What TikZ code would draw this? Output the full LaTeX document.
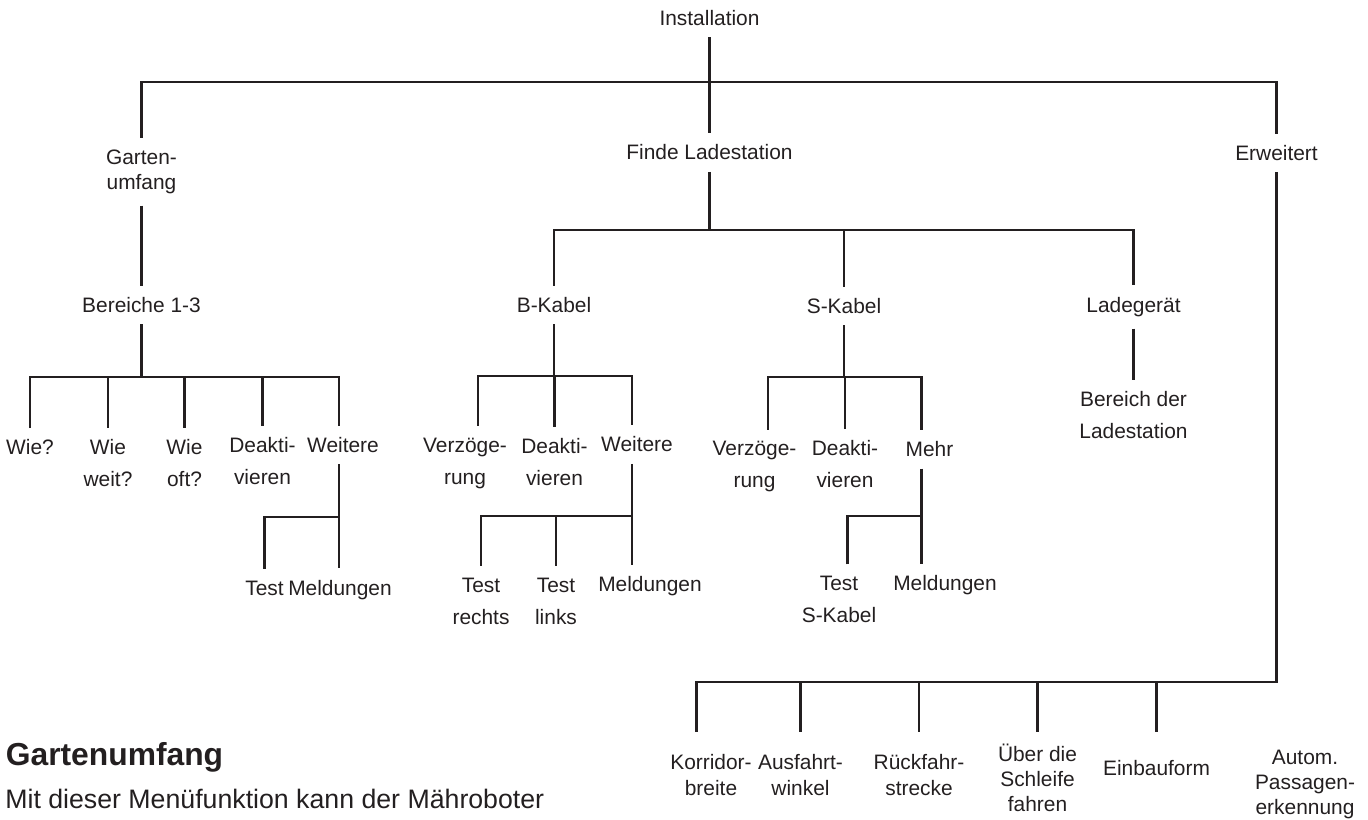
\documentclass[tikz,border=0pt]{standalone}
\usepackage{fontspec}
\setmainfont{Liberation Sans}
\definecolor{ink}{RGB}{35,31,32}
\tikzset{
  lbl/.style={font=\fontsize{11.9}{14.3}\selectfont, align=center, text=ink, inner xsep=1pt, inner ysep=6.5pt},
  tall/.style={lbl, font=\fontsize{11.9}{18.2}\selectfont},
  wire/.style={draw=ink, line width=1.3pt}
}
\begin{document}
\begin{tikzpicture}[x=0.02cm, y=-0.02cm]
        \useasboundingbox (0,0) rectangle (1368,819);
        % Top level
        \node[lbl] (inst) at (709.5,18) {Installation};
        \node[lbl] (garten) at (141.5,171.7) {Garten-\\umfang};
        \node[lbl] (find) at (709.5,152.5) {Finde Ladestation};
        \node[lbl] (erw) at (1276.5,153) {Erweitert};
        \coordinate (t1) at (141.5,82);
        \coordinate (t2) at (1276.5,82);
        \draw[wire] (inst) -- (find);
        \draw[wire] (garten) -- (t1) -- (t2) -- (erw);
        % Gartenumfang
        \node[lbl] (ber) at (141.5,305) {Bereiche 1-3};
        \draw[wire] (garten) -- (ber);
        \node[lbl] (wie) at (30,447.5) {Wie?};
        \node[tall] (wieweit) at (108,463.4) {Wie\\weit?};
        \node[tall] (wieoft) at (184.5,463.4) {Wie\\oft?};
        \node[tall] (gdeak) at (262.5,461) {Deakti-\\vieren};
        \node[lbl] (gweit) at (343,445) {Weitere};
        \coordinate (g1) at (30,377);
        \coordinate (g2) at (339,377);
        \draw[wire] (ber) -- (ber |- g1);
        \draw[wire] (wie) -- (g1) -- (g2) -- (gweit.north -| g2);
        \draw[wire] (wieweit) -- (wieweit |- g1);
        \draw[wire] (wieoft) -- (wieoft |- g1);
        \draw[wire] (gdeak) -- (gdeak |- g1);
        % Weitere (Bereiche)
        \node[lbl] (gtest) at (264.5,588) {Test};
        \node[lbl] (gmeld) at (340,590) {Meldungen};
        \coordinate (g3) at (264.5,517);
        \draw[wire] (gweit.south -| g2) -- (gmeld.north -| g2);
        \draw[wire] (gtest) -- (g3) -- (g3 -| g2);
        % Finde Ladestation
        \node[lbl] (bkab) at (554,305) {B-Kabel};
        \node[lbl] (skab) at (844,306) {S-Kabel};
        \node[lbl] (lade) at (1133.5,307) {Ladegerät};
        \coordinate (f1) at (554,230);
        \coordinate (f2) at (1133.5,230);
        \draw[wire] (find) -- (find |- f1);
        \draw[wire] (bkab) -- (f1) -- (f2) -- (lade);
        \draw[wire] (skab) -- (skab |- f1);
        % B-Kabel
        \node[tall] (bverz) at (465,463) {Verzöge-\\rung};
        \node[tall] (bdeak) at (554.5,462) {Deakti-\\vieren};
        \node[lbl] (bweit) at (637,444.5) {Weitere};
        \coordinate (b1) at (478,376);
        \coordinate (b2) at (632,376);
        \draw[wire] (bkab) -- (bkab |- b1);
        \draw[wire] (bverz.north -| b1) -- (b1) -- (b2) -- (bweit.north -| b2);
        \draw[wire] (bdeak) -- (bdeak |- b1);
        % Weitere (B-Kabel)
        \node[tall] (btr) at (481,601) {Test\\rechts};
        \node[tall] (btl) at (556,601) {Test\\links};
        \node[lbl] (bmeld) at (650,586.5) {Meldungen};
        \coordinate (b3) at (481,516);
        \draw[wire] (bweit.south -| b2) -- (bmeld.north -| b2);
        \draw[wire] (btr) -- (b3) -- (b3 -| b2);
        \draw[wire] (btl) -- (btl |- b3);
        % S-Kabel
        \node[tall] (sverz) at (754.5,466.7) {Verzöge-\\rung};
        \node[tall] (sdeak) at (845,464.5) {Deakti-\\vieren};
        \node[lbl] (smehr) at (929.5,449.2) {Mehr};
        \coordinate (s1) at (768,377);
        \coordinate (s2) at (921.5,377);
        \draw[wire] (skab) -- (skab |- s1);
        \draw[wire] (sverz.north -| s1) -- (s1) -- (s2) -- (smehr.north -| s2);
        \draw[wire] (sdeak) -- (sdeak |- s1);
        % Mehr
        \node[tall] (stest) at (839,599.5) {Test\\S-Kabel};
        \node[lbl] (smeld) at (945,585.5) {Meldungen};
        \coordinate (s3) at (847.5,516);
        \draw[wire] (smehr.south -| s2) -- (smeld.north -| s2);
        \draw[wire] (stest.north -| s3) -- (s3) -- (s3 -| s2);
        % Ladegeraet
        \node[tall] (lber) at (1133.5,415.5) {Bereich der\\Ladestation};
        \draw[wire] (lade) -- (lber);
        % Erweitert
        \node[lbl] (korr) at (711,775) {Korridor-\\breite};
        \node[lbl] (ausf) at (800.5,775) {Ausfahrt-\\winkel};
        \node[lbl] (rueck) at (919,775) {Rückfahr-\\strecke};
        \node[lbl] (ueber) at (1037.5,778) {Über die\\Schleife\\fahren};
        \node[lbl] (einbau) at (1156.5,768.5) {Einbauform};
        \node[lbl] (autom) at (1305,784.7) {Autom.\\Passagen-\\erkennung};
        \coordinate (e1) at (696.5,682);
        \coordinate (e2) at (1276.5,682);
        \coordinate (e3) at (696.5,731.7);
        \draw[wire] (erw) -- (e2) -- (e1) -- (e3);
        \draw[wire] (ausf |- e1) -- (ausf |- e3);
        \draw[wire] (rueck |- e1) -- (rueck |- e3);
        \draw[wire] (ueber |- e1) -- (ueber |- e3);
        \draw[wire] (einbau |- e1) -- (einbau |- e3);
        % Text below
        \node[anchor=base west, inner sep=0, text=ink, font=\fontsize{18.1}{21}\selectfont\bfseries] (head) at (5.5,765) {Gartenumfang};
        \node[anchor=base west, inner sep=0, text=ink, font=\fontsize{15.2}{18}\selectfont] (body) at (5,808.3) {Mit dieser Menüfunktion kann der Mähroboter};
\end{tikzpicture}
\end{document}
